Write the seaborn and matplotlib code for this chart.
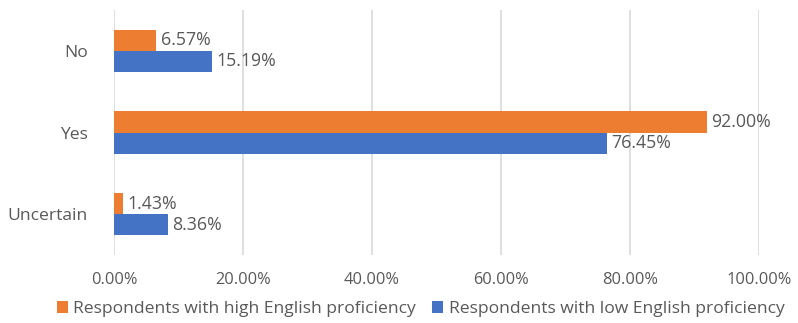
import matplotlib
matplotlib.use("Agg")
import matplotlib.pyplot as plt
import seaborn as sns
import pandas as pd
from matplotlib.patches import Patch
from matplotlib.ticker import FuncFormatter

categories = ["No", "Yes", "Uncertain"]
high_vals = [6.57, 92.00, 1.43]
low_vals = [15.19, 76.45, 8.36]
series = ["Respondents with high English proficiency",
          "Respondents with low English proficiency"]
colors = ["#ED7D31", "#4472C4"]
x_ticks = [0, 20, 40, 60, 80, 100]

df = pd.DataFrame({
    "category": categories * 2,
    "value": high_vals + low_vals,
    "group": [series[0]] * 3 + [series[1]] * 3,
})

sns.set_style("white")
plt.rcParams["font.family"] = ["Open Sans", "DejaVu Sans"]
text_color = "#595959"

fig = plt.figure(figsize=(7.98, 3.23), dpi=100)
ax = fig.add_axes([114 / 798, 1 - 255 / 323, 645 / 798, 245 / 323])

sns.barplot(data=df, y="category", x="value", hue="group", order=categories,
            hue_order=series, palette=colors, orient="h", width=0.52,
            saturation=1, linewidth=0, ax=ax, legend=False)

for container in ax.containers:
    ax.bar_label(container, labels=[f"{v:.2f}%" for v in container.datavalues],
                 padding=3, fontsize=12.8, color=text_color)

ax.set_xlim(0, 100)
ax.set_ylim(2.5, -0.5)
ax.set_xticks(x_ticks)
ax.xaxis.set_major_formatter(FuncFormatter(lambda v, p: f"{v:.2f}%"))
ax.grid(axis="x", color="#D9D9D9", linewidth=1.2)
ax.set_axisbelow(True)
for s in ax.spines.values():
    s.set_visible(False)
ax.set_xlabel("")
ax.set_ylabel("")
ax.tick_params(axis="x", length=0, pad=12, labelsize=11.8, labelcolor=text_color)
ax.tick_params(axis="y", length=0, pad=19, labelsize=12.6, labelcolor=text_color)

handles = [Patch(facecolor=c, edgecolor="none") for c in colors]
fig.legend(handles, series, loc="center", bbox_to_anchor=(0.527, 1 - 309 / 323),
           ncol=2, frameon=False, fontsize=12.6, labelcolor=text_color,
           handlelength=0.65, handleheight=0.65, handletextpad=0.3,
           columnspacing=0.9)

fig.savefig("out.png", dpi=100)
